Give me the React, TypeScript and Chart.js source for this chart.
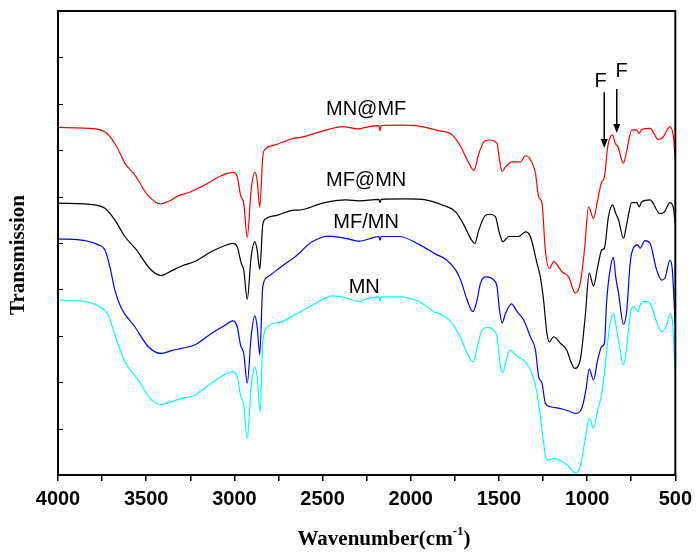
import { useEffect, useRef } from "react";
import { Chart, registerables } from "chart.js";

Chart.register(...registerables);

// [wavenumber (cm-1), transmission (arb. units)]
const mnAtMf: [number, number][] = [
  [4000, 7.49], [3791, 7.46], [3725, 7.37], [3668, 7.08], [3621, 6.72], [3565, 6.47], [3491, 6.03], [3418, 5.84],
  [3367, 5.91], [3322, 6.01], [3244, 6.11], [3169, 6.25], [3074, 6.45], [3009, 6.52], [2984, 6.43], [2965, 6.03],
  [2947, 5.86], [2927, 5.12], [2905, 6.14], [2884, 6.52], [2871, 6.36], [2856, 5.77], [2839, 6.86], [2826, 7.02],
  [2773, 7.11], [2660, 7.26], [2632, 7.27], [2500, 7.41], [2387, 7.51], [2302, 7.46], [2236, 7.51], [2180, 7.53],
  [2174, 7.42], [2168, 7.53], [2066, 7.54], [1953, 7.52], [1840, 7.42], [1765, 7.33], [1717, 7.08], [1680, 6.79],
  [1642, 6.57], [1614, 6.93], [1595, 7.11], [1586, 7.18], [1557, 7.22], [1511, 7.15], [1497, 6.79], [1482, 6.54],
  [1463, 6.64], [1426, 6.75], [1378, 6.75], [1350, 6.88], [1327, 6.83], [1293, 6.5], [1275, 6.0], [1256, 5.86],
  [1237, 4.85], [1214, 4.45], [1190, 4.6], [1143, 4.38], [1105, 4.27], [1067, 3.92], [1039, 4.13], [1015, 4.85],
  [992, 5.78], [964, 5.53], [940, 5.93], [920, 6.29], [902, 6.43], [883, 7.08], [856, 7.33], [841, 7.15],
  [826, 7.08], [794, 6.72], [775, 7.0], [747, 7.44], [719, 7.44], [706, 7.36], [691, 7.45], [643, 7.47],
  [596, 7.23], [568, 7.29], [530, 7.51], [511, 7.29], [501, 6.86],
];

const mfAtMn: [number, number][] = [
  [4000, 5.86], [3791, 5.82], [3734, 5.75], [3678, 5.5], [3621, 5.14], [3555, 4.85], [3480, 4.45], [3418, 4.3],
  [3357, 4.4], [3301, 4.5], [3225, 4.6], [3131, 4.81], [3056, 4.94], [3009, 4.99], [2984, 4.92], [2961, 4.56],
  [2947, 4.42], [2927, 3.79], [2905, 4.7], [2884, 5.03], [2871, 4.85], [2856, 4.43], [2839, 5.39], [2820, 5.53],
  [2754, 5.6], [2660, 5.71], [2632, 5.71], [2500, 5.86], [2368, 5.93], [2292, 5.91], [2180, 5.94], [2174, 5.87],
  [2168, 5.94], [2028, 5.95], [1915, 5.93], [1822, 5.82], [1746, 5.67], [1699, 5.39], [1661, 5.1], [1637, 4.99],
  [1614, 5.28], [1576, 5.6], [1548, 5.62], [1520, 5.57], [1497, 5.21], [1478, 5.03], [1444, 5.14], [1388, 5.14],
  [1350, 5.24], [1322, 5.14], [1284, 4.56], [1265, 4.26], [1247, 3.77], [1228, 3.05], [1214, 2.87], [1190, 2.98],
  [1152, 2.84], [1115, 2.69], [1096, 2.48], [1071, 2.3], [1039, 2.48], [1011, 3.41], [988, 4.35], [964, 4.07],
  [940, 4.49], [917, 4.85], [902, 4.89], [879, 5.57], [856, 5.82], [838, 5.64], [822, 5.5], [794, 5.1],
  [775, 5.42], [747, 5.87], [719, 5.87], [704, 5.78], [691, 5.89], [643, 5.93], [587, 5.63], [562, 5.67],
  [530, 5.87], [511, 5.75], [501, 5.42],
];

const mfSlashMn: [number, number][] = [
  [4000, 5.09], [3847, 5.05], [3772, 4.96], [3734, 4.85], [3706, 4.49], [3678, 3.99], [3640, 3.59], [3565, 3.2],
  [3489, 2.77], [3418, 2.62], [3357, 2.68], [3301, 2.73], [3225, 2.8], [3131, 3.05], [3056, 3.22], [3009, 3.32],
  [2984, 3.2], [2965, 2.8], [2947, 2.62], [2927, 1.98], [2905, 2.98], [2884, 3.43], [2871, 3.2], [2856, 2.59],
  [2839, 4.06], [2811, 4.27], [2735, 4.49], [2660, 4.69], [2557, 5.03], [2462, 5.15], [2368, 5.1], [2292, 5.04],
  [2217, 5.11], [2180, 5.14], [2174, 5.06], [2168, 5.14], [2066, 5.14], [1953, 4.97], [1859, 4.76], [1802, 4.65],
  [1746, 4.42], [1717, 4.2], [1680, 3.77], [1648, 3.52], [1624, 3.77], [1605, 4.13], [1576, 4.27], [1529, 4.2],
  [1511, 4.06], [1497, 3.56], [1482, 3.28], [1463, 3.48], [1429, 3.69], [1397, 3.52], [1360, 3.34], [1322, 2.98],
  [1293, 2.69], [1275, 2.12], [1256, 1.98], [1237, 1.55], [1209, 1.47], [1162, 1.44], [1105, 1.38], [1067, 1.33],
  [1030, 1.44], [1007, 1.83], [988, 2.28], [964, 2.05], [940, 2.48], [917, 2.77], [902, 2.84], [889, 3.77],
  [870, 4.42], [851, 4.69], [838, 4.27], [822, 3.92], [794, 3.25], [775, 3.56], [756, 4.57], [738, 4.89],
  [713, 4.96], [700, 4.89], [672, 5.05], [643, 4.99], [606, 4.42], [578, 4.2], [559, 4.24], [530, 4.63],
  [517, 4.42], [501, 3.27],
];

const mn: [number, number][] = [
  [4000, 3.77], [3847, 3.74], [3772, 3.64], [3716, 3.45], [3668, 2.91], [3621, 2.44], [3546, 2.05], [3470, 1.62],
  [3414, 1.52], [3357, 1.58], [3301, 1.65], [3225, 1.72], [3131, 1.98], [3056, 2.16], [3009, 2.23], [2984, 2.12],
  [2965, 1.72], [2947, 1.51], [2927, 0.79], [2905, 1.9], [2884, 2.32], [2871, 2.12], [2854, 1.36], [2839, 2.84],
  [2811, 3.2], [2735, 3.3], [2660, 3.45], [2557, 3.66], [2444, 3.86], [2368, 3.82], [2296, 3.74], [2236, 3.81],
  [2180, 3.84], [2174, 3.75], [2168, 3.84], [2066, 3.84], [1953, 3.74], [1868, 3.52], [1822, 3.45], [1765, 3.27],
  [1717, 2.95], [1680, 2.62], [1646, 2.44], [1618, 2.84], [1595, 3.13], [1567, 3.18], [1524, 3.09], [1511, 2.98],
  [1491, 2.33], [1478, 2.2], [1463, 2.41], [1440, 2.69], [1397, 2.56], [1350, 2.44], [1313, 2.19], [1284, 1.76],
  [1256, 0.97], [1237, 0.43], [1218, 0.32], [1190, 0.36], [1143, 0.29], [1105, 0.19], [1067, 0.05], [1039, 0.18],
  [1015, 0.68], [988, 1.22], [964, 1.01], [940, 1.4], [917, 1.76], [898, 2.33], [875, 3.13], [851, 3.48],
  [832, 3.13], [813, 2.69], [794, 2.37], [775, 2.77], [751, 3.56], [732, 3.63], [713, 3.52], [700, 3.66],
  [672, 3.74], [643, 3.7], [606, 3.3], [578, 3.09], [549, 3.23], [530, 3.48], [517, 3.34], [501, 2.26],
];

const seriesNames = ["MN@MF", "MF@MN", "MF/MN", "MN"];
const seriesColors = ["#ff0000", "#000000", "#0000ff", "#00ffff"];
const seriesData = [mnAtMf, mfAtMn, mfSlashMn, mn];

// curve label anchors [wavenumber, transmission]
const labelAnchors: [number, number][] = [
  [2253, 7.87],
  [2253, 6.34],
  [2253, 5.45],
  [2264, 4.05],
];

// "F" markers
const markerText = ["F", "F"];
const markerTextPos: [number, number][] = [[924, 8.49], [805, 8.69]];
const markerArrowWn = [903, 832];
const markerArrowTop = [8.25, 8.32];
const markerArrowTip = [7.05, 7.37];

const xMin = 500;
const xMax = 4000;
const yMin = 0;
const yMax = 10;

const overlayPlugin = {
  id: "overlay",
  afterDraw(chart: any) {
    const { ctx, chartArea: a, scales } = chart;
    const xs = scales.x;
    const ys = scales.y;
    ctx.save();

    // inward y tick marks
    ctx.strokeStyle = "#000";
    ctx.lineWidth = 1;
    for (let v = yMin + 1; v < yMax; v++) {
      const py = Math.round(ys.getPixelForValue(v)) + 0.5;
      ctx.beginPath();
      ctx.moveTo(a.left, py);
      ctx.lineTo(a.left + 5, py);
      ctx.stroke();
    }

    // frame
    ctx.lineWidth = 2;
    ctx.strokeRect(a.left, a.top, a.right - a.left, a.bottom - a.top);

    // curve labels
    ctx.fillStyle = "#000";
    ctx.font = "20px 'Liberation Sans', Arial, sans-serif";
    ctx.textAlign = "center";
    ctx.textBaseline = "middle";
    seriesNames.forEach((name, i) => {
      const [wx, wy] = labelAnchors[i];
      ctx.fillText(name, xs.getPixelForValue(wx), ys.getPixelForValue(wy));
    });

    // F markers with arrows
    markerText.forEach((t, i) => {
      const [tx, ty] = markerTextPos[i];
      ctx.fillText(t, xs.getPixelForValue(tx), ys.getPixelForValue(ty));
      const ax = xs.getPixelForValue(markerArrowWn[i]);
      const y0 = ys.getPixelForValue(markerArrowTop[i]);
      const y1 = ys.getPixelForValue(markerArrowTip[i]);
      ctx.lineWidth = 1.5;
      ctx.beginPath();
      ctx.moveTo(ax, y0);
      ctx.lineTo(ax, y1 - 8);
      ctx.stroke();
      ctx.beginPath();
      ctx.moveTo(ax - 3.5, y1 - 9);
      ctx.lineTo(ax + 3.5, y1 - 9);
      ctx.lineTo(ax, y1);
      ctx.closePath();
      ctx.fill();
    });

    // x title with superscript
    const serifBold = "'Liberation Serif', 'Times New Roman', serif";
    ctx.textAlign = "left";
    ctx.textBaseline = "alphabetic";
    const main = "Wavenumber(cm";
    const sup = "-1";
    const end = ")";
    ctx.font = `bold 21px ${serifBold}`;
    const wMain = ctx.measureText(main).width;
    const wEnd = ctx.measureText(end).width;
    ctx.font = `bold 13px ${serifBold}`;
    const wSup = ctx.measureText(sup).width;
    const total = wMain + wSup + wEnd;
    const cx = 384;
    const base = 545;
    let sx = cx - total / 2;
    ctx.font = `bold 21px ${serifBold}`;
    ctx.fillText(main, sx, base);
    sx += wMain;
    ctx.font = `bold 13px ${serifBold}`;
    ctx.fillText(sup, sx, base - 10);
    sx += wSup;
    ctx.font = `bold 21px ${serifBold}`;
    ctx.fillText(end, sx, base);

    // y title
    ctx.save();
    ctx.translate(19, 255);
    ctx.rotate(-Math.PI / 2);
    ctx.textAlign = "center";
    ctx.textBaseline = "middle";
    ctx.font = `bold 21px ${serifBold}`;
    ctx.fillText("Transmission", 0, 0);
    ctx.restore();

    ctx.restore();
  },
};

export default function App() {
  const ref = useRef<HTMLCanvasElement | null>(null);

  useEffect(() => {
    document.body.style.margin = "0";
    const canvas = ref.current;
    if (!canvas) return;
    const chart = new Chart(canvas, {
      type: "line",
      data: {
        datasets: seriesData.map((d, i) => ({
          label: seriesNames[i],
          data: d.map(([x, y]) => ({ x, y })),
          borderColor: seriesColors[i],
          backgroundColor: seriesColors[i],
          borderWidth: 1.2,
          pointRadius: 0,
          cubicInterpolationMode: "monotone" as const,
          fill: false,
        })),
      },
      options: {
        animation: false,
        responsive: false,
        events: [],
        layout: { padding: { left: 58, right: 21, top: 11, bottom: 0 } },
        plugins: {
          legend: { display: false },
          tooltip: { enabled: false },
        },
        scales: {
          x: {
            type: "linear",
            reverse: true,
            min: xMin,
            max: xMax,
            afterFit: (scale: any) => {
              scale.height = 77;
            },
            border: { display: false },
            grid: {
              drawOnChartArea: false,
              drawTicks: true,
              tickLength: 6,
              color: "#000",
              lineWidth: 1.5,
            },
            ticks: {
              stepSize: 250,
              autoSkip: false,
              maxRotation: 0,
              padding: 6,
              color: "#000",
              font: { family: "'Liberation Sans', Arial, sans-serif", size: 20, weight: "bold" },
              callback: (v: any) => (Number(v) % 500 === 0 ? String(v) : ""),
            },
          },
          y: {
            type: "linear",
            display: false,
            min: yMin,
            max: yMax,
          },
        },
      },
      plugins: [overlayPlugin],
    });
    return () => chart.destroy();
  }, []);

  return <canvas ref={ref} width={698} height={552} style={{ display: "block" }} />;
}
